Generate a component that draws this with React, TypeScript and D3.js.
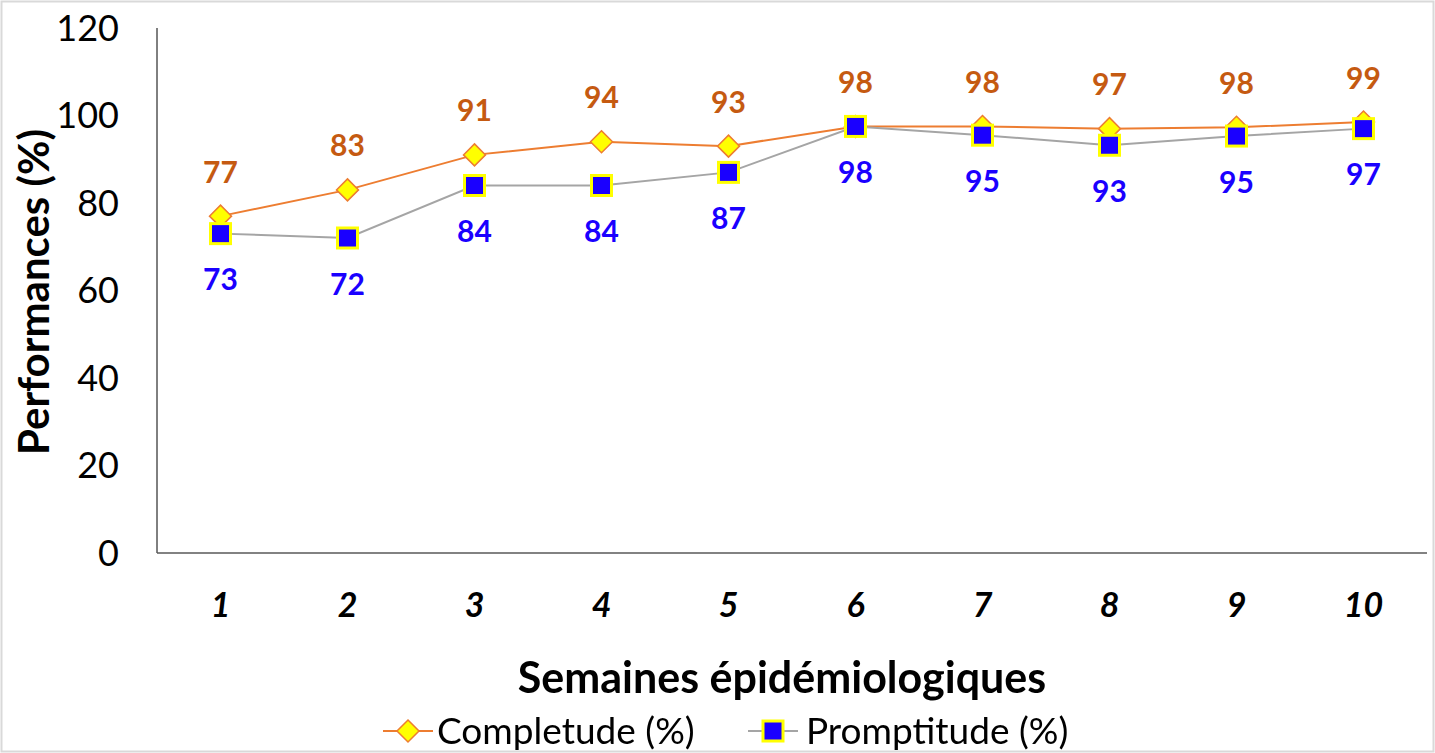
import * as d3 from 'd3';
import { useRef, useEffect } from 'react';

const weeks = ['1', '2', '3', '4', '5', '6', '7', '8', '9', '10'];
const completude = [77, 83, 91, 94, 93, 97.5, 97.5, 97, 97.3, 98.5];
const completudeLabels = ['77', '83', '91', '94', '93', '98', '98', '97', '98', '99'];
const promptitude = [73, 72, 84, 84, 87, 97.5, 95.5, 93.2, 95.3, 97];
const promptitudeLabels = ['73', '72', '84', '84', '87', '98', '95', '93', '95', '97'];
const yTicks = [0, 20, 40, 60, 80, 100, 120];

const FONT = 'Lato, "Open Sans", sans-serif';

export default function App() {
  const svgRef = useRef<SVGSVGElement | null>(null);

  useEffect(() => {
    const width = 1435;
    const height = 753;
    const margin = { top: 28, right: 8, bottom: 200, left: 157 };
    const innerWidth = width - margin.left - margin.right;
    const innerHeight = height - margin.top - margin.bottom;

    d3.select(svgRef.current).selectAll('*').remove();
    const root = d3.select(svgRef.current).attr('width', width).attr('height', height);

    // Cadre
    root
      .append('rect')
      .attr('x', 1.5)
      .attr('y', 1.5)
      .attr('width', width - 3)
      .attr('height', height - 3)
      .attr('fill', '#fff')
      .attr('stroke', '#d9d9d9')
      .attr('stroke-width', 2);

    const svg = root.append('g').attr('transform', `translate(${margin.left},${margin.top})`);

    const x = d3.scaleBand().domain(weeks).range([0, innerWidth]).paddingInner(0).paddingOuter(0);
    const y = d3.scaleLinear().domain([0, 120]).range([innerHeight, 0]);
    const cx = (w: string) => (x(w) ?? 0) + x.bandwidth() / 2;

    // Axes
    svg
      .append('line')
      .attr('x1', 0)
      .attr('x2', 0)
      .attr('y1', 0)
      .attr('y2', innerHeight)
      .attr('stroke', '#000')
      .attr('stroke-width', 1);
    svg
      .append('line')
      .attr('x1', 0)
      .attr('x2', innerWidth)
      .attr('y1', innerHeight)
      .attr('y2', innerHeight)
      .attr('stroke', '#595959')
      .attr('stroke-width', 1.5);

    yTicks.forEach((t) => {
      svg
        .append('text')
        .attr('x', -38)
        .attr('y', y(t))
        .attr('dy', '0.35em')
        .attr('text-anchor', 'end')
        .attr('font-family', FONT)
        .attr('font-size', '36px')
        .attr('fill', '#000')
        .text(t);
    });

    weeks.forEach((w) => {
      svg
        .append('text')
        .attr('x', cx(w))
        .attr('y', innerHeight + 52)
        .attr('dy', '0.35em')
        .attr('text-anchor', 'middle')
        .attr('font-family', FONT)
        .attr('font-size', '34px')
        .attr('font-weight', 'bold')
        .attr('font-style', 'italic')
        .attr('fill', '#000')
        .text(w);
    });

    // Titres
    svg
      .append('text')
      .attr('transform', `translate(${-123},${264}) rotate(-90)`)
      .attr('text-anchor', 'middle')
      .attr('dy', '0.35em')
      .attr('font-family', FONT)
      .attr('font-size', '42px')
      .attr('font-weight', 'bold')
      .text('Performances (%)');

    root
      .append('text')
      .attr('x', 782)
      .attr('y', 678)
      .attr('dy', '0.35em')
      .attr('text-anchor', 'middle')
      .attr('font-family', FONT)
      .attr('font-size', '43px')
      .attr('font-weight', 'bold')
      .text('Semaines épidémiologiques');

    const line = d3
      .line<number>()
      .x((_, i) => cx(weeks[i]))
      .y((d) => y(d));

    svg
      .append('path')
      .attr('d', line(completude))
      .attr('fill', 'none')
      .attr('stroke', '#ED7D31')
      .attr('stroke-width', 2);
    svg
      .append('path')
      .attr('d', line(promptitude))
      .attr('fill', 'none')
      .attr('stroke', '#A5A5A5')
      .attr('stroke-width', 2);

    const diamond = (px: number, py: number, r: number) =>
      `M${px},${py - r}L${px + r},${py}L${px},${py + r}L${px - r},${py}Z`;

    completude.forEach((v, i) => {
      svg
        .append('path')
        .attr('d', diamond(cx(weeks[i]), y(v), 11))
        .attr('fill', '#FFFF00')
        .attr('stroke', '#ED7D31')
        .attr('stroke-width', 1.5);
    });

    promptitude.forEach((v, i) => {
      svg
        .append('rect')
        .attr('x', cx(weeks[i]) - 10)
        .attr('y', y(v) - 10)
        .attr('width', 20)
        .attr('height', 20)
        .attr('fill', '#1A00FF')
        .attr('stroke', '#FFFF00')
        .attr('stroke-width', 3);
    });

    completude.forEach((v, i) => {
      svg
        .append('text')
        .attr('x', cx(weeks[i]))
        .attr('y', y(v) - 44)
        .attr('dy', '0.35em')
        .attr('text-anchor', 'middle')
        .attr('font-family', FONT)
        .attr('font-size', '30px')
        .attr('font-weight', 'bold')
        .attr('fill', '#C55A11')
        .text(completudeLabels[i]);
    });

    promptitude.forEach((v, i) => {
      svg
        .append('text')
        .attr('x', cx(weeks[i]))
        .attr('y', y(v) + 46)
        .attr('dy', '0.35em')
        .attr('text-anchor', 'middle')
        .attr('font-family', FONT)
        .attr('font-size', '30px')
        .attr('font-weight', 'bold')
        .attr('fill', '#1A00FF')
        .text(promptitudeLabels[i]);
    });

    // Légende
    const ly = 731;
    const leg = root.append('g');
    leg
      .append('line')
      .attr('x1', 383)
      .attr('x2', 433)
      .attr('y1', ly)
      .attr('y2', ly)
      .attr('stroke', '#ED7D31')
      .attr('stroke-width', 2);
    leg
      .append('path')
      .attr('d', diamond(408, ly, 11))
      .attr('fill', '#FFFF00')
      .attr('stroke', '#ED7D31')
      .attr('stroke-width', 1.5);
    leg
      .append('text')
      .attr('x', 437)
      .attr('y', ly)
      .attr('dy', '0.35em')
      .attr('font-family', FONT)
      .attr('font-size', '37px')
      .text('Completude (%)');

    leg
      .append('line')
      .attr('x1', 748)
      .attr('x2', 798)
      .attr('y1', ly)
      .attr('y2', ly)
      .attr('stroke', '#A5A5A5')
      .attr('stroke-width', 2);
    leg
      .append('rect')
      .attr('x', 763)
      .attr('y', ly - 10)
      .attr('width', 20)
      .attr('height', 20)
      .attr('fill', '#1A00FF')
      .attr('stroke', '#FFFF00')
      .attr('stroke-width', 3);
    leg
      .append('text')
      .attr('x', 806)
      .attr('y', ly)
      .attr('dy', '0.35em')
      .attr('font-family', FONT)
      .attr('font-size', '37px')
      .text('Promptitude (%)');
  }, []);

  return (
    <div style={{ position: 'fixed', left: 0, top: 0 }}>
      <svg ref={svgRef} style={{ display: 'block' }} />
    </div>
  );
}
